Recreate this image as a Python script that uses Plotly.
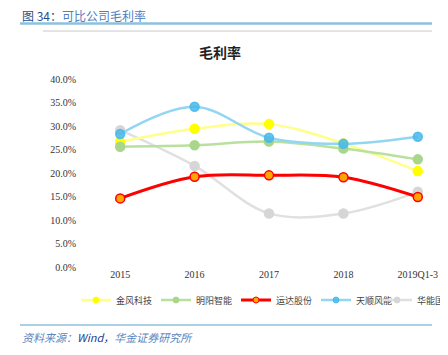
import plotly.graph_objects as go

categories = ["2015", "2016", "2017", "2018", "2019Q1-3"]
jinfeng = [26.6, 29.4, 30.4, 26.3, 20.4]
mingyang = [25.6, 25.9, 26.7, 25.2, 22.9]
yunda = [14.6, 19.2, 19.5, 19.1, 14.9]
tianshun = [28.3, 34.1, 27.5, 26.2, 27.7]
huaneng = [29.1, 21.5, 11.4, 11.4, 16.0]
y_ticks = [0, 5, 10, 15, 20, 25, 30, 35, 40]
y_labels = ["0.0%", "5.0%", "10.0%", "15.0%", "20.0%", "25.0%", "30.0%", "35.0%", "40.0%"]

W, H = 448, 355
OFF = 8  # page body margin offset
L, T, R = 83 - OFF, 79 - OFF, 1
B = H - (267 - OFF)
PW, PH = W - L - R, H - T - B

def px(x):
    return (x - OFF - L) / PW

def py(y):
    return 1 - (y - OFF - T) / PH

fig = go.Figure()

series = [
    # name, values, line colour, marker fill, marker border, legend, line width
    ("华能国际", huaneng, "#e0e0e0", "#d6d6d6", "#d6d6d6", "legend2", 2.5),
    ("金风科技", jinfeng, "#ffff8a", "#ffff00", "#ffff00", "legend", 2.5),
    ("明阳智能", mingyang, "#b9e09c", "#a9d68a", "#a9d68a", "legend", 2.5),
    ("天顺风能", tianshun, "#92d6f2", "rgba(70,185,235,0.85)", "rgba(70,185,235,0.85)", "legend", 2.5),
    ("运达股份", yunda, "#ff0000", "#ffa500", "#ff0000", "legend", 3),
]
ranks = {"金风科技": 1, "明阳智能": 2, "运达股份": 3, "天顺风能": 4, "华能国际": 5}

for name, vals, lc, mc, bc, lg, w in series:
    fig.add_trace(go.Scatter(
        x=categories, y=vals, name=name, mode="lines+markers", showlegend=False,
        line=dict(color=lc, width=w, shape="spline", smoothing=1),
        marker=dict(size=9, color=mc, line=dict(color=bc, width=1.5)),
    ))
for name, vals, lc, mc, bc, lg, w in series:
    fig.add_trace(go.Scatter(
        x=[None], y=[None], name=name, mode="lines+markers", showlegend=True,
        legend=lg, legendrank=ranks[name],
        line=dict(color=lc, width=w),
        marker=dict(size=6, color=mc, line=dict(color=bc, width=1)),
    ))

legend_font = dict(family="Noto Sans CJK SC", size=9, color="#444")
fig.update_layout(
    width=W, height=H,
    margin=dict(l=L, r=R, t=T, b=B, pad=0, autoexpand=False),
    paper_bgcolor="white", plot_bgcolor="white",
    showlegend=True,
    legend=dict(orientation="h", x=px(76), y=py(300), xanchor="left", yanchor="middle",
                entrywidth=35, entrywidthmode="pixels", traceorder="normal",
                font=legend_font, itemwidth=30, bgcolor="rgba(0,0,0,0)", borderwidth=0),
    legend2=dict(orientation="h", x=px(377), y=py(300), xanchor="left", yanchor="middle",
                 entrywidth=35, entrywidthmode="pixels",
                 font=legend_font, itemwidth=30, bgcolor="rgba(0,0,0,0)", borderwidth=0),
    xaxis=dict(type="category", range=[-0.5, 4.5], showgrid=False, zeroline=False,
               showline=False, ticks="", automargin=False,
               tickfont=dict(family="Liberation Serif", size=10, color="#333")),
    yaxis=dict(range=[0, 40], tickvals=y_ticks, ticktext=y_labels, showgrid=False,
               zeroline=False, showline=False, ticks="", ticklabelstandoff=6, automargin=False,
               tickfont=dict(family="Liberation Serif", size=10, color="#333")),
    font=dict(family="Noto Sans CJK SC"),
)

# header
fig.add_annotation(xref="paper", yref="paper", x=px(20), y=py(16),
                   xanchor="left", yanchor="middle", showarrow=False,
                   text="<span style='color:#1f4e8f'>图 34：</span><span style='color:#4f80bd'>可比公司毛利率</span>",
                   font=dict(family="Noto Sans CJK SC", size=12))
fig.add_shape(type="line", xref="paper", yref="paper", x0=px(20), x1=px(432),
              y0=py(23.5), y1=py(23.5), line=dict(color="#8ec0dc", width=2.5))
fig.add_shape(type="line", xref="paper", yref="paper", x0=px(43), x1=px(432),
              y0=py(31), y1=py(31), line=dict(color="#c8c8c8", width=1))
# chart title
fig.add_annotation(xref="paper", yref="paper", x=px(220), y=py(52),
                   xanchor="center", yanchor="middle", showarrow=False,
                   text="<b>毛利率</b>", font=dict(family="Noto Sans CJK SC", size=14, color="#222"))
# source
fig.add_shape(type="line", xref="paper", yref="paper", x0=px(20), x1=px(432),
              y0=py(325), y1=py(325), line=dict(color="#8ec0dc", width=1.5))
fig.add_annotation(xref="paper", yref="paper", x=px(20), y=py(337),
                   xanchor="left", yanchor="middle", showarrow=False,
                   text="<i><span style='color:#5a86c0'>资料来源：</span><span style='color:#1f3f8f'>Wind，</span><span style='color:#5a86c0'>华金证券研究所</span></i>",
                   font=dict(family="Noto Sans CJK SC", size=11))

fig.write_html("out.html")
